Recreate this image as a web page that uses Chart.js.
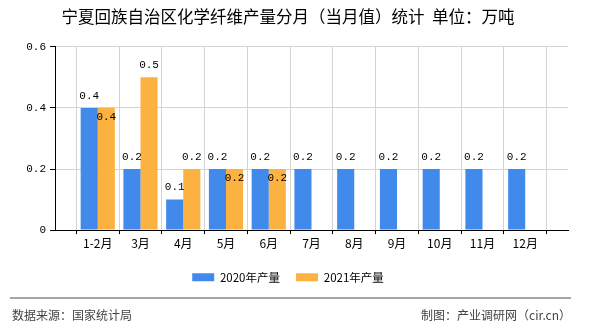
<!DOCTYPE html>
<html>
<head>
<meta charset="utf-8">
<script src="https://cdn.jsdelivr.net/npm/chart.js@4"></script>
<style>
  html, body { margin: 0; padding: 0; background: #fff; }
  #wrap { width: 590px; height: 330px; position: relative; }
</style>
</head>
<body>
<div id="wrap"><canvas id="chart"></canvas></div>
<script>
// 宁夏回族自治区化学纤维产量分月（当月值）统计
const categories = ['1-2月', '3月', '4月', '5月', '6月', '7月', '8月', '9月', '10月', '11月', '12月'];
const output2020 = [0.4, 0.2, 0.1, 0.2, 0.2, 0.2, 0.2, 0.2, 0.2, 0.2, 0.2];
const output2021 = [0.4, 0.5, 0.2, 0.2, 0.2, null, null, null, null, null, null];
const yTicks = [0, 0.2, 0.4, 0.6];

const CJK = "'Noto Sans CJK SC', 'Liberation Sans', sans-serif";
const MONO = "'Liberation Mono', 'DejaVu Sans Mono', monospace";

// 首尾各补一个空位，让月份标签落在网格线上
const labels = [''].concat(categories, ['']);
const pad = arr => [null].concat(arr, [null]);

// 柱顶数值标签
const valueLabels = {
  id: 'valueLabels',
  afterDatasetsDraw(chart) {
    const ctx = chart.ctx;
    ctx.save();
    ctx.font = '11px ' + MONO;
    ctx.fillStyle = '#000';
    ctx.textAlign = 'center';
    ctx.textBaseline = 'middle';
    chart.data.datasets.forEach((ds, di) => {
      const meta = chart.getDatasetMeta(di);
      meta.data.forEach((bar, i) => {
        const v = ds.data[i];
        if (v === null || v === undefined) return;
        const other = chart.data.datasets[1 - di].data[i];
        // 和左边柱子同高时，标签放进柱内避免重叠
        if (di === 1 && other === v) {
          ctx.fillText(v.toFixed(1), bar.x, bar.y + 9);
        } else {
          ctx.fillText(v.toFixed(1), bar.x, bar.y - 12);
        }
      });
    });
    ctx.restore();
  }
};

// 底部来源说明
const footer = {
  id: 'footer',
  afterDraw(chart) {
    const ctx = chart.ctx;
    ctx.save();
    ctx.strokeStyle = '#888';
    ctx.lineWidth = 1.5;
    ctx.beginPath();
    ctx.moveTo(10, 298);
    ctx.lineTo(571, 298);
    ctx.stroke();
    ctx.font = '12px ' + CJK;
    ctx.fillStyle = '#444';
    ctx.textBaseline = 'middle';
    ctx.textAlign = 'left';
    ctx.fillText('数据来源：国家统计局', 12, 315);
    ctx.textAlign = 'right';
    ctx.fillText('制图：产业调研网（cir.cn）', 571, 315);
    ctx.restore();
  }
};

new Chart(document.getElementById('chart'), {
  type: 'bar',
  data: {
    labels,
    datasets: [
      { label: '2020年产量', data: pad(output2020), backgroundColor: '#418AEC' },
      { label: '2021年产量', data: pad(output2021), backgroundColor: '#FBB241' }
    ]
  },
  options: {
    responsive: true,
    maintainAspectRatio: false,
    animation: false,
    events: [],
    categoryPercentage: 0.8,
    barPercentage: 1,
    layout: { padding: { top: 0, left: 8, right: 22, bottom: 37 } },
    scales: {
      x: {
        offset: false,
        afterFit: scale => { scale.height += 3; },
        grid: { color: '#d4d4d4', tickColor: '#000', tickLength: 4 },
        border: { color: '#000' },
        ticks: { font: { family: CJK, size: 12 }, color: '#000', maxRotation: 0, autoSkip: false, padding: 2 }
      },
      y: {
        min: 0,
        max: 0.6,
        afterBuildTicks: scale => { scale.ticks = yTicks.map(v => ({ value: v })); },
        afterFit: scale => { scale.width = 47; },
        grid: { color: '#d4d4d4', tickColor: '#000', tickLength: 5 },
        border: { color: '#000' },
        ticks: {
          font: { family: MONO, size: 11 },
          color: '#000',
          padding: 4,
          callback: v => (v === 0 ? '0' : v.toFixed(1))
        }
      }
    },
    plugins: {
      title: {
        display: true,
        text: '宁夏回族自治区化学纤维产量分月（当月值）统计  单位：万吨',
        font: { family: CJK, size: 16.5, weight: 'normal' },
        color: '#000',
        padding: { top: 7, bottom: 20 }
      },
      legend: {
        position: 'bottom',
        labels: {
          boxWidth: 22,
          boxHeight: 8,
          padding: 16,
          color: '#000',
          font: { family: CJK, size: 11.5 }
        }
      },
      tooltip: { enabled: false }
    }
  },
  plugins: [valueLabels, footer]
});
</script>
</body>
</html>
